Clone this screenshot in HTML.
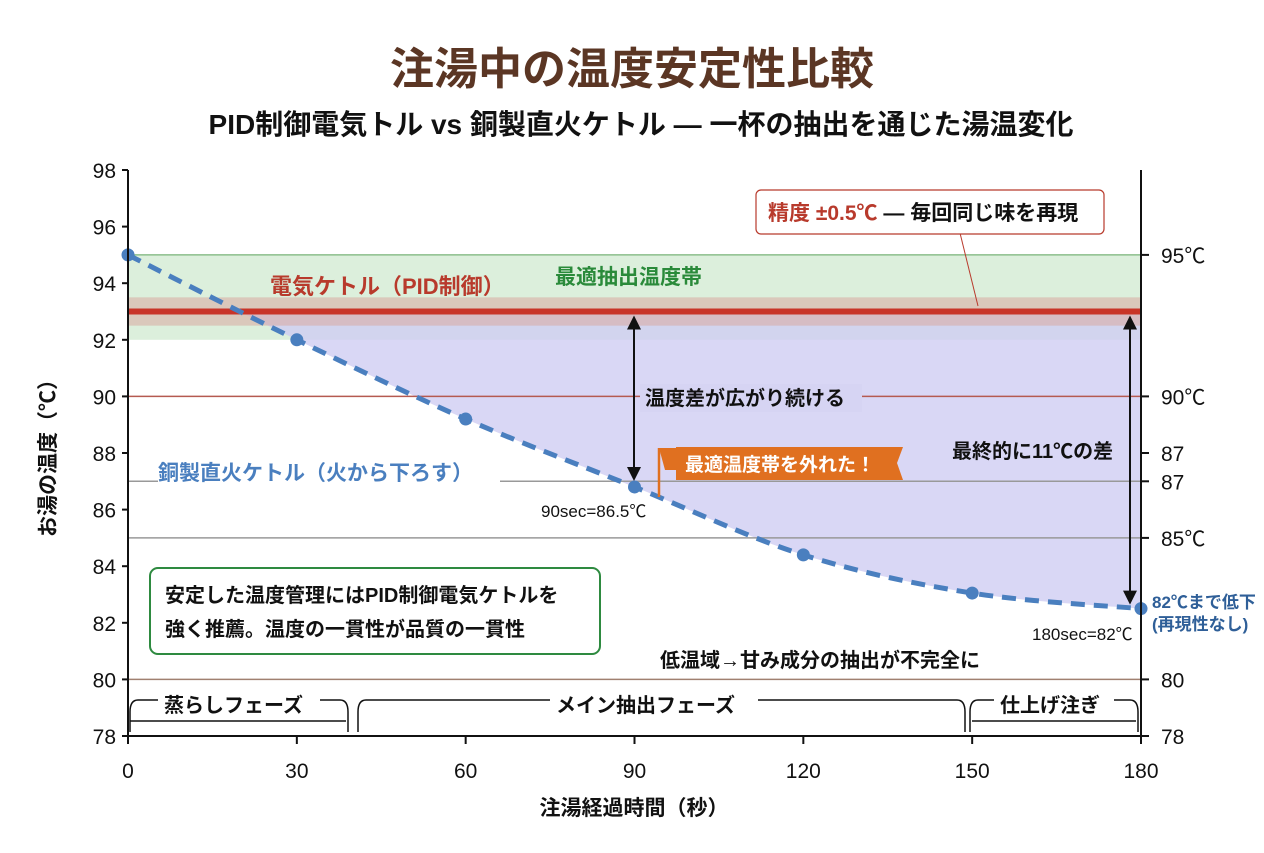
<!DOCTYPE html>
<html><head><meta charset="utf-8">
<style>
html,body{margin:0;padding:0;background:#fff;}
body{width:1264px;height:848px;overflow:hidden;font-family:"Liberation Sans","Noto Sans CJK JP",sans-serif;}
svg text{font-family:"Liberation Sans","Noto Sans CJK JP",sans-serif;}
</style></head>
<body>
<svg id="chart" width="1264" height="848" xmlns="http://www.w3.org/2000/svg">
<text x="632" y="84" text-anchor="middle" font-size="44" font-weight="bold" fill="#5b3624">注湯中の温度安定性比較</text>
<text x="641" y="134" text-anchor="middle" font-size="28" font-weight="bold" fill="#111">PID制御電気トル vs 銅製直火ケトル ― 一杯の抽出を通じた湯温変化</text>
<g id="plot"></g>
</svg>
<script>
const xTicks=[0,30,60,90,120,150,180];
const yTicks=[78,80,82,84,86,88,90,92,94,96,98];
const copperTimes=[0,30,60,90,120,150,180];
const copperTemps=[95,92,89.2,86.8,84.4,83.05,82.5];
const pidTemp=[93];
const optimalBand=[92,95];
const pidBand=[92.5,93.5];
const rightTickValues=[95,90,88,87,85,80,78];
const rightTickLabels=["95℃","90℃","87","87","85℃","80","78"];

const X0=128,X1=1141,Y0=736,Y1=170;
const xs=v=>X0+(v-0)/(180-0)*(X1-X0);
const ys=v=>Y0-(v-78)/(98-78)*(Y0-Y1);
const NS="http://www.w3.org/2000/svg";
const g=document.getElementById('plot');
function el(tag,attrs,parent){const e=document.createElementNS(NS,tag);for(const k in attrs)e.setAttribute(k,attrs[k]);(parent||g).appendChild(e);return e;}
function txt(s,attrs){const e=el('text',attrs);e.textContent=s;return e;}

let e;
e=el('rect',{x:X0,y:ys(optimalBand[1]),width:X1-X0,height:ys(optimalBand[0])-ys(optimalBand[1]),fill:'#dcefdc'});


el('line',{x1:X0,x2:X1,y1:ys(optimalBand[1]),y2:ys(optimalBand[1]),stroke:'#5aa25a','stroke-width':1});

const pts=copperTimes.map((t,i)=>[xs(t),ys(copperTemps[i])]);
function curve(p){let d=`M${p[0][0]},${p[0][1]}`;for(let i=0;i<p.length-1;i++){const p0=p[i-1]||p[i],p1=p[i],p2=p[i+1],p3=p[i+2]||p2;const c1=[p1[0]+(p2[0]-p0[0])/6,p1[1]+(p2[1]-p0[1])/6],c2=[p2[0]-(p3[0]-p1[0])/6,p2[1]-(p3[1]-p1[1])/6];d+=` C${c1[0]},${c1[1]} ${c2[0]},${c2[1]} ${p2[0]},${p2[1]}`;}return d;}
const cd=curve(pts);
el('clipPath',{id:'belowPid'});
const cp=document.getElementById('belowPid');
el('rect',{x:X0,y:ys(pidTemp[0]),width:X1-X0,height:Y0-ys(pidTemp[0])},cp);
e=el('path',{d:cd+` L${X1},${ys(pidTemp[0])-200} L${X0},${ys(pidTemp[0])-200} Z`,fill:'#cfcdf3',opacity:0.8,'clip-path':'url(#belowPid)'});


e=el('rect',{x:X0,y:ys(pidBand[1]),width:X1-X0,height:ys(pidBand[0])-ys(pidBand[1]),fill:'#d9a8a0',opacity:0.55});



el('line',{x1:X0,x2:X1,y1:ys(90),y2:ys(90),stroke:'#b55a50','stroke-width':1.5});
el('line',{x1:X0,x2:X1,y1:ys(87),y2:ys(87),stroke:'#999','stroke-width':1.5});
el('line',{x1:X0,x2:X1,y1:ys(85),y2:ys(85),stroke:'#999','stroke-width':1.5});
el('line',{x1:X0,x2:X1,y1:ys(80),y2:ys(80),stroke:'#a08070','stroke-width':1.5});

e=el('line',{x1:X0,x2:X1,y1:ys(pidTemp[0]),y2:ys(pidTemp[0]),stroke:'#c83428','stroke-width':6});



e=el('path',{d:cd,fill:'none',stroke:'#4a7fbf','stroke-width':5,'stroke-dasharray':'14 9'});


pts.forEach((p,i)=>{const c=el('circle',{cx:p[0],cy:p[1],r:6.5,fill:'#4a7fbf'});

});

el('line',{x1:X0,x2:X0,y1:Y1,y2:Y0,stroke:'#111','stroke-width':2});
el('line',{x1:X1,x2:X1,y1:Y1,y2:Y0,stroke:'#111','stroke-width':2});
el('line',{x1:X0,x2:X1,y1:Y0,y2:Y0,stroke:'#111','stroke-width':2});
yTicks.forEach(v=>{el('line',{x1:X0-6,x2:X0,y1:ys(v),y2:ys(v),stroke:'#111','stroke-width':2});
const t=txt(String(v),{x:X0-12,y:ys(v)+8,'text-anchor':'end','font-size':21,fill:'#111'});

});
xTicks.forEach(v=>{el('line',{x1:xs(v),x2:xs(v),y1:Y0,y2:Y0+8,stroke:'#111','stroke-width':2});
const t=txt(String(v),{x:xs(v),y:Y0+42,'text-anchor':'middle','font-size':21,fill:'#111'});

});
rightTickValues.forEach((v,i)=>{el('line',{x1:X1,x2:X1+8,y1:ys(v),y2:ys(v),stroke:'#111','stroke-width':2});
const t=txt(rightTickLabels[i],{x:X1+20,y:ys(v)+8,'font-size':21,fill:'#111'});

});

e=txt('注湯経過時間（秒）',{x:634,y:815,'text-anchor':'middle','font-size':21,'font-weight':'bold',fill:'#111'});


e=txt('お湯の温度（℃）',{x:0,y:0,transform:'translate(55,453) rotate(-90)','text-anchor':'middle','font-size':21,'font-weight':'bold',fill:'#111'});



txt('電気ケトル（PID制御）',{x:270,y:294,'font-size':22,'font-weight':'bold',fill:'#b83a2c'});
txt('最適抽出温度帯',{x:555,y:284,'font-size':21,'font-weight':'bold',fill:'#2a8a3a'});
el('rect',{x:158,y:462,width:342,height:32,fill:'#fff'});
txt('銅製直火ケトル（火から下ろす）',{x:158,y:480,'font-size':21,'font-weight':'bold',fill:'#4a7fbf'});
el('line',{x1:960,x2:978,y1:233,y2:306,stroke:'#b83a2c','stroke-width':1});
e=el('rect',{x:756,y:190,width:348,height:44,rx:5,fill:'#fff',stroke:'#b83a2c','stroke-width':1.2});


const pt=txt('',{x:768,y:220,'font-size':21,'font-weight':'bold',fill:'#111'});
pt.innerHTML='<tspan fill="#b83a2c">精度 ±0.5℃</tspan> ― 毎回同じ味を再現';
function arrow(x,ya,yb){el('line',{x1:x,x2:x,y1:ya+12,y2:yb-12,stroke:'#111','stroke-width':2});
el('path',{d:`M${x-7},${ya+14} L${x},${ya} L${x+7},${ya+14} Z`,fill:'#111'});
el('path',{d:`M${x-7},${yb-14} L${x},${yb} L${x+7},${yb-14} Z`,fill:'#111'});}
arrow(634,ys(93)+4,ys(86.8)-6);
el('rect',{x:640,y:384,width:222,height:28,fill:'#d6d4f3'});
txt('温度差が広がり続ける',{x:645,y:405,'font-size':20,'font-weight':'bold',fill:'#111'});
arrow(1130,ys(93)+4,ys(82.5)-4);
txt('最終的に11℃の差',{x:952,y:458,'font-size':20,'font-weight':'bold',fill:'#111'});
el('line',{x1:659,x2:659,y1:448,y2:497,stroke:'#e07020','stroke-width':2.5});
el('path',{d:'M659,448 L678,448 L678,470 L665,470 Z',fill:'#e07020'});
e=el('path',{d:'M676,447 L903,447 L897,463 L903,480 L676,480 Z',fill:'#e07020'});


txt('最適温度帯を外れた！',{x:685,y:471,'font-size':19,'font-weight':'bold',fill:'#fff'});
txt('90sec=86.5℃',{x:541,y:517,'font-size':17,fill:'#111'});
txt('180sec=82℃',{x:1032,y:640,'font-size':17,fill:'#111'});
txt('82℃まで低下',{x:1152,y:608,'font-size':17,'font-weight':'bold',fill:'#2f5f98'});
txt('(再現性なし)',{x:1152,y:630,'font-size':17,'font-weight':'bold',fill:'#2f5f98'});
e=el('rect',{x:150,y:568,width:450,height:86,rx:8,fill:'#fff',stroke:'#2e8a40','stroke-width':2});


txt('安定した温度管理にはPID制御電気ケトルを',{x:165,y:602,'font-size':20,'font-weight':'bold',fill:'#111'});
txt('強く推薦。温度の一貫性が品質の一貫性',{x:165,y:636,'font-size':20,'font-weight':'bold',fill:'#111'});
txt('低温域→甘み成分の抽出が不完全に',{x:660,y:667,'font-size':20,'font-weight':'bold',fill:'#111'});
function phase(x1,x2,label,lx,lw){el('path',{d:`M${x1+8},700 Q${x1},700 ${x1},712 L${x1},732`,fill:'none',stroke:'#111','stroke-width':1.5});
el('path',{d:`M${x2-8},700 Q${x2},700 ${x2},712 L${x2},732`,fill:'none',stroke:'#111','stroke-width':1.5});
el('line',{x1:x1+8,x2:lx-6,y1:700,y2:700,stroke:'#111','stroke-width':1.5});
el('line',{x1:lx+lw+6,x2:x2-8,y1:700,y2:700,stroke:'#111','stroke-width':1.5});
const t=txt(label,{x:lx,y:712,'font-size':20,'font-weight':'bold',fill:'#111'});

}
phase(130,348,'蒸らしフェーズ',164,150);
phase(358,965,'メイン抽出フェーズ',556,196);
phase(970,1138,'仕上げ注ぎ',1000,108);
el('line',{x1:130,x2:346,y1:721,y2:721,stroke:'#111','stroke-width':1.5});
el('line',{x1:972,x2:1136,y1:721,y2:721,stroke:'#111','stroke-width':1.5});
</script>
</body></html>
